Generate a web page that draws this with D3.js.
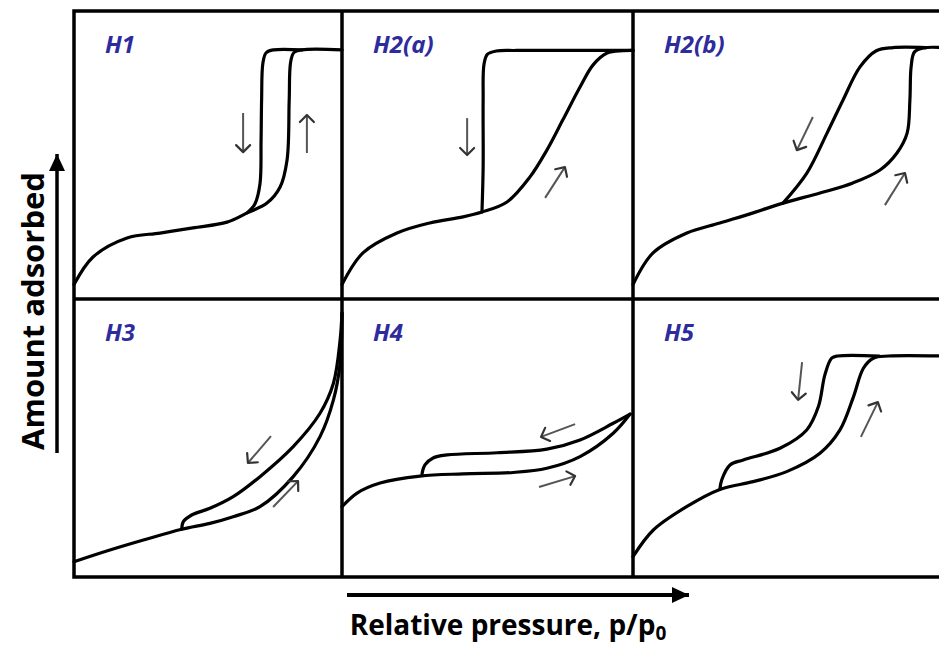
<!DOCTYPE html>
<html><head><meta charset="utf-8">
<script src="https://cdn.jsdelivr.net/npm/d3@7"></script>
<style>
html,body{margin:0;padding:0;background:#fff;}
svg{display:block;}
</style></head>
<body>
<script>
// ---- Data (normalized: x = p/p0 in [0,1], y = amount adsorbed in [0,1]) ----
const panelNames = ["H1", "H2(a)", "H2(b)", "H3", "H4", "H5"];

const h1Ads = [[0,0.05],[0.071,0.146],[0.198,0.212],[0.321,0.229],[0.444,0.247],[0.571,0.267],[0.646,0.299],[0.72,0.333],[0.769,0.389],[0.795,0.483],[0.803,0.691],[0.808,0.82],[0.82,0.855],[0.85,0.865],[1,0.865]];
const h1Des = [[0.646,0.299],[0.675,0.33],[0.694,0.40],[0.698,0.55],[0.700,0.691],[0.705,0.82],[0.717,0.855],[0.745,0.865],[0.85,0.865]];

const h2aAds = [[0,0.05],[0.072,0.160],[0.189,0.229],[0.302,0.264],[0.416,0.285],[0.481,0.302],[0.567,0.337],[0.646,0.424],[0.704,0.517],[0.759,0.622],[0.818,0.736],[0.863,0.813],[0.911,0.854],[0.966,0.862],[1,0.863]];
const h2aDes = [[0.481,0.302],[0.485,0.458],[0.485,0.691],[0.488,0.815],[0.50,0.850],[0.53,0.861],[0.6,0.863],[1,0.863]];

const h2bAds = [[0,0.05],[0.065,0.160],[0.175,0.229],[0.282,0.264],[0.390,0.299],[0.487,0.333],[0.607,0.368],[0.714,0.403],[0.802,0.448],[0.857,0.507],[0.890,0.576],[0.899,0.691],[0.903,0.806],[0.914,0.858],[0.945,0.872],[1,0.873]];
const h2bDes = [[0.487,0.333],[0.565,0.438],[0.630,0.576],[0.682,0.691],[0.737,0.806],[0.79,0.862],[0.844,0.873],[0.95,0.873]];

const h3Ads = [[0,0.055],[0.134,0.097],[0.259,0.133],[0.402,0.172],[0.507,0.193],[0.594,0.217],[0.694,0.253],[0.818,0.361],[0.918,0.505],[0.968,0.637],[0.993,0.769],[1,0.95]];
const h3Des = [[0.402,0.172],[0.408,0.199],[0.439,0.223],[0.507,0.247],[0.594,0.289],[0.694,0.361],[0.818,0.469],[0.918,0.589],[0.968,0.697],[0.993,0.853],[1,0.95]];

const h4Ads = [[0,0.253],[0.052,0.302],[0.131,0.338],[0.268,0.363],[0.416,0.371],[0.588,0.376],[0.704,0.391],[0.818,0.433],[0.932,0.517],[0.99,0.586]];
const h4Des = [[0.275,0.371],[0.285,0.403],[0.313,0.428],[0.361,0.439],[0.533,0.447],[0.704,0.460],[0.818,0.493],[0.932,0.553],[0.99,0.586]];

const h5Ads = [[0,0.073],[0.066,0.169],[0.174,0.253],[0.282,0.315],[0.390,0.343],[0.499,0.379],[0.607,0.445],[0.672,0.529],[0.716,0.649],[0.748,0.751],[0.780,0.787],[0.83,0.795],[1,0.795]];
const h5Des = [[0.282,0.315],[0.288,0.349],[0.315,0.403],[0.358,0.421],[0.477,0.463],[0.564,0.529],[0.602,0.613],[0.623,0.727],[0.645,0.787],[0.665,0.795],[0.8,0.795]];

// direction arrows [x1, y1, x2, y2] in the same normalized units
const h1Arrows = [[0.631,0.646,0.631,0.510],[0.869,0.507,0.869,0.639]];
const h2aArrows = [[0.430,0.628,0.430,0.500],[0.698,0.351,0.766,0.458]];
const h2bArrows = [[0.584,0.632,0.532,0.517],[0.818,0.326,0.883,0.4375]];
const h3Arrows = [[0.735,0.507,0.649,0.410],[0.743,0.252,0.836,0.345]];
const h4Arrows = [[0.801,0.550,0.684,0.504],[0.677,0.324,0.801,0.363]];
const h5Arrows = [[0.549,0.773,0.536,0.637],[0.740,0.504,0.795,0.629]];

const adsorption = [h1Ads, h2aAds, h2bAds, h3Ads, h4Ads, h5Ads];
const desorption = [h1Des, h2aDes, h2bDes, h3Des, h4Des, h5Des];
const arrows = [h1Arrows, h2aArrows, h2bArrows, h3Arrows, h4Arrows, h5Arrows];

const xLabel = "Relative pressure, p/p";
const xLabelSub = "0";
const yLabel = "Amount adsorbed";

// ---- Layout ----
const W = 939, H = 647;
const colEdges = [74, 342, 633, 941];
const rowEdges = [11, 299, 577];
const FONT = "'Open Sans', Lato, sans-serif";

const svg = d3.select("body").append("svg").attr("width", W).attr("height", H);
svg.append("rect").attr("width", W).attr("height", H).attr("fill", "#fff");

const defs = svg.append("defs");
defs.append("marker").attr("id", "chev")
  .attr("markerUnits", "userSpaceOnUse").attr("markerWidth", 20).attr("markerHeight", 20)
  .attr("viewBox", "-10 -10 20 20").attr("refX", 0).attr("refY", 0).attr("orient", "auto")
  .append("path").attr("d", "M-7,-7 L0,0 L-7,7").attr("fill", "none")
  .attr("stroke", "#333").attr("stroke-width", 2.2).attr("stroke-linecap", "round").attr("stroke-linejoin", "round");
defs.append("marker").attr("id", "tri")
  .attr("markerUnits", "userSpaceOnUse").attr("markerWidth", 24).attr("markerHeight", 24)
  .attr("viewBox", "-20 -12 24 24").attr("refX", 0).attr("refY", 0).attr("orient", "auto")
  .append("path").attr("d", "M-17,-8 L0,0 L-17,8 Z").attr("fill", "#000");

const line = d3.line().curve(d3.curveCatmullRom.alpha(0.5));

panelNames.forEach((name, i) => {
  const c = i % 3, r = Math.floor(i / 3);
  const x = d3.scaleLinear().domain([0, 1]).range([colEdges[c], colEdges[c + 1]]);
  const y = d3.scaleLinear().domain([0, 1]).range([rowEdges[r + 1], rowEdges[r]]);
  const g = svg.append("g");
  line.x(d => x(d[0])).y(d => y(d[1]));
  [adsorption[i], desorption[i]].forEach(series => {
    g.append("path").attr("d", line(series)).attr("fill", "none")
      .attr("stroke", "#000").attr("stroke-width", 3.2).attr("stroke-linecap", "round").attr("stroke-linejoin", "round");
  });
  g.selectAll("line.dir").data(arrows[i]).enter().append("line").attr("class", "dir")
    .attr("x1", d => x(d[0])).attr("y1", d => y(d[1]))
    .attr("x2", d => x(d[2])).attr("y2", d => y(d[3]))
    .attr("stroke", "#555").attr("stroke-width", 2).attr("marker-end", "url(#chev)");
  g.append("text").attr("x", x(0) + 31).attr("y", y(1) + 42)
    .attr("font-family", FONT).attr("font-weight", "bold").attr("font-style", "italic")
    .attr("font-size", 24).attr("fill", "#2e2b9c").text(name);
});

// frame
const frame = svg.append("g").attr("stroke", "#000").attr("stroke-width", 3.5).attr("fill", "none");
frame.append("rect").attr("x", colEdges[0]).attr("y", rowEdges[0])
  .attr("width", colEdges[3] - colEdges[0]).attr("height", rowEdges[2] - rowEdges[0]);
colEdges.slice(1, 3).forEach(cx => frame.append("line").attr("x1", cx).attr("x2", cx).attr("y1", rowEdges[0]).attr("y2", rowEdges[2]));
frame.append("line").attr("x1", colEdges[0]).attr("x2", colEdges[3]).attr("y1", rowEdges[1]).attr("y2", rowEdges[1]);

// axis arrows
svg.append("line").attr("x1", 57).attr("y1", 453).attr("x2", 57).attr("y2", 154)
  .attr("stroke", "#000").attr("stroke-width", 3.5).attr("marker-end", "url(#tri)");
svg.append("line").attr("x1", 347).attr("y1", 595).attr("x2", 689).attr("y2", 595)
  .attr("stroke", "#000").attr("stroke-width", 4).attr("marker-end", "url(#tri)");

// axis labels
const xt = svg.append("text").attr("x", 508).attr("y", 635).attr("text-anchor", "middle")
  .attr("font-family", FONT).attr("font-weight", "bold").attr("font-size", 28).attr("fill", "#000");
xt.append("tspan").text(xLabel);
xt.append("tspan").attr("font-size", 19).attr("dy", 5).text(xLabelSub);

svg.append("text").attr("transform", "translate(44,311) rotate(-90)").attr("text-anchor", "middle")
  .attr("font-family", FONT).attr("font-weight", "bold").attr("font-size", 31).attr("fill", "#000")
  .text(yLabel);
</script>
</body></html>
